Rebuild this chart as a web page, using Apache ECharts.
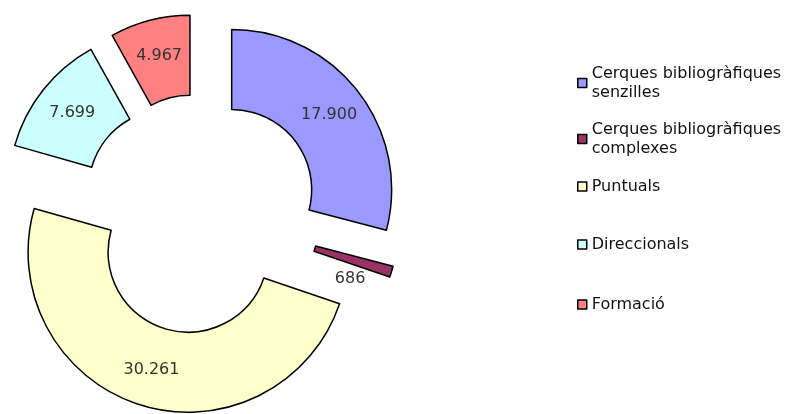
<!DOCTYPE html>
<html>
<head>
<meta charset="utf-8">
<script src="https://cdn.jsdelivr.net/npm/echarts@6/dist/echarts.min.js"></script>
<style>
  html, body { margin: 0; padding: 0; background: #fff; }
  #pie { width: 787px; height: 414px; }
</style>
</head>
<body>
<div id="pie"></div>
<script>
const categories = [
  'Cerques bibliogràfiques senzilles',
  'Cerques bibliogràfiques complexes',
  'Puntuals',
  'Direccionals',
  'Formació'
];
const values = [17900, 686, 30261, 7699, 4967];
const colors = ['#9999FF', '#993366', '#FFFFCC', '#CCFFFF', '#FF8080'];

// legend text wrapping as in the original
const legendText = {
  'Cerques bibliogràfiques senzilles': 'Cerques bibliogràfiques\nsenzilles',
  'Cerques bibliogràfiques complexes': 'Cerques bibliogràfiques\ncomplexes'
};
const legendTops = [64, 120, 177, 235, 295];

// 17900 -> 17.900
function fmt(v) {
  return String(v).replace(/\B(?=(\d{3})+(?!\d))/g, '.');
}

const font = "'DejaVu Sans', sans-serif";

const option = {
  animation: false,
  legend: categories.map((name, i) => ({
    data: [name],
    orient: 'vertical',
    left: 577,
    top: legendTops[i],
    padding: 0,
    icon: 'rect',
    itemWidth: 9,
    itemHeight: 9,
    selectedMode: false,
    itemStyle: { borderColor: '#000', borderWidth: 1.5 },
    textStyle: { fontFamily: font, fontSize: 16, lineHeight: 19, color: '#111' },
    formatter: n => legendText[n] || n
  })),
  series: [
    {
      name: 'Consultes',
      type: 'pie',
      center: [200, 214],
      radius: [80, 160],
      startAngle: 90,
      selectedMode: 'multiple',
      selectedOffset: 40,
      itemStyle: { borderColor: '#000', borderWidth: 1.5 },
      emphasis: { disabled: true },
      label: {
        show: true,
        position: 'inside',
        fontFamily: font,
        fontSize: 16,
        color: '#333',
        formatter: p => fmt(p.value)
      },
      labelLine: { show: false },
      // the thin slice carries its label just below it
      labelLayout: p => (p.dataIndex === 1 ? { dx: -6, dy: 18 } : {}),
      data: categories.map((name, i) => ({
        name: name,
        value: values[i],
        selected: true,
        itemStyle: { color: colors[i] }
      }))
    }
  ]
};

let pieChart = echarts.init(document.getElementById('pie'));
pieChart.setOption(option);
</script>
</body>
</html>
